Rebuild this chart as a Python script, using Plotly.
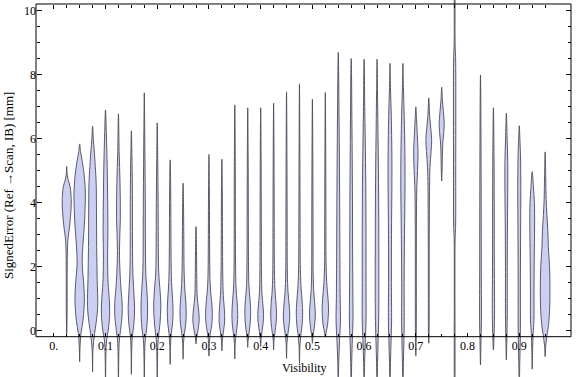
import plotly.graph_objects as go

# ---------------- data ----------------
visibility = [0.025, 0.05, 0.075, 0.1, 0.125, 0.15, 0.175, 0.2, 0.225, 0.25,
              0.275, 0.3, 0.325, 0.35, 0.375, 0.4, 0.425, 0.45, 0.475, 0.5,
              0.525, 0.55, 0.575, 0.6, 0.625, 0.65, 0.675, 0.7, 0.725, 0.75,
              0.775, 0.825, 0.85, 0.875, 0.9, 0.925, 0.95]

error_min = [-0.11, -0.98, -1.29, -1.8, -1.8, -1.37, -1.8, -1.8, -1.06, -0.9,
             -0.42, -0.8, -0.64, -0.89, -0.53, -0.5, -0.61, -0.87, -1.03, -0.4,
             -0.19, -1.8, -1.8, -1.8, -1.8, -1.8, -1.8, -0.8, -0.4, 4.68,
             -2.0, -1.08, -0.61, -0.92, -1.8, -1.21, -0.82]

error_max = [5.13, 5.84, 6.40, 6.90, 6.78, 6.25, 7.44, 6.50, 5.34, 4.61,
             3.25, 5.51, 5.36, 7.06, 6.97, 6.97, 7.11, 7.47, 7.72, 7.24,
             7.45, 8.70, 8.51, 8.49, 8.49, 8.36, 8.36, 7.00, 7.28, 7.61,
             11.0, 8.00, 6.97, 6.80, 6.41, 4.97, 5.59]

# estimated density profile of each distribution: (error level, relative density)
density_knots = [
    [(0.5, 0.4), (2.0, 0.5), (2.8, 1.1), (3.3, 3.0), (3.8, 4.3), (4.1, 4.5), (4.5, 3.4), (4.75, 1.2), (4.95, 0.3)],
    [(-0.5, 0.4), (-0.1, 1.3), (0.3, 3.3), (0.7, 4.4), (1.05, 4.7), (1.5, 4.0), (2.1, 2.5), (2.7, 3.3), (3.3, 4.7), (3.8, 5.4), (4.3, 5.7), (4.8, 4.7), (5.3, 2.6), (5.6, 0.9)],
    [(-0.6, 0.4), (-0.1, 2.0), (0.25, 3.6), (0.75, 5.1), (1.6, 4.6), (2.6, 4.1), (3.7, 3.9), (4.6, 3.6), (5.13, 2.7), (5.65, 1.6), (6.0, 0.7)],
    [(-0.8, 0.35), (-0.3, 1.1), (0.0, 2.7), (0.5, 4.1), (0.9, 3.9), (1.5, 2.6), (2.2, 2.1), (3.2, 2.4), (4.2, 2.1), (5.1, 1.7), (6.2, 0.8)],
    [(-0.8, 0.35), (-0.3, 0.9), (0.0, 2.1), (0.5, 3.7), (0.9, 3.6), (1.5, 2.1), (2.5, 1.0), (3.5, 1.9), (4.6, 1.6), (5.6, 0.7)],
    [(-0.6, 0.35), (-0.2, 0.9), (0.2, 2.5), (0.7, 3.2), (1.2, 2.5), (1.8, 1.5), (2.8, 1.1), (4.0, 1.1), (5.0, 0.8), (5.7, 0.4)],
    [(-0.8, 0.35), (-0.3, 0.9), (0.1, 2.5), (0.7, 3.3), (1.3, 2.5), (1.8, 1.5), (2.8, 1.1), (4.0, 1.0), (5.2, 0.7), (6.3, 0.4)],
    [(-0.8, 0.35), (-0.3, 0.9), (0.2, 2.7), (0.8, 3.6), (1.3, 2.7), (1.8, 1.5), (2.6, 1.1), (4.0, 0.9), (5.3, 0.5)],
    [(-0.5, 0.35), (-0.1, 1.1), (0.2, 2.3), (0.6, 2.9), (1.0, 2.4), (1.5, 1.4), (2.3, 0.9), (3.5, 0.7), (4.5, 0.5)],
    [(-0.4, 0.4), (-0.1, 1.3), (0.2, 2.6), (0.55, 3.1), (0.9, 2.7), (1.3, 1.7), (1.9, 1.0), (3.0, 0.7), (4.0, 0.4)],
    [(-0.2, 0.7), (0.0, 1.9), (0.35, 3.2), (0.7, 2.4), (1.05, 1.2), (1.6, 0.8), (2.5, 0.5)],
    [(-0.4, 0.4), (-0.1, 1.3), (0.15, 2.7), (0.5, 3.4), (0.9, 2.7), (1.3, 1.5), (1.8, 0.9), (3.0, 0.6), (4.5, 0.4)],
    [(-0.3, 0.5), (-0.05, 1.5), (0.3, 2.8), (0.7, 2.4), (1.1, 1.4), (1.7, 0.9), (3.0, 0.6), (4.5, 0.4)],
    [(-0.4, 0.4), (-0.1, 1.4), (0.2, 2.5), (0.5, 2.9), (0.9, 2.3), (1.3, 1.3), (1.9, 0.8), (3.0, 0.6), (5.0, 0.5)],
    [(-0.3, 0.4), (-0.05, 1.4), (0.3, 2.6), (0.65, 2.9), (1.0, 2.2), (1.4, 1.2), (2.0, 0.8), (3.5, 0.6), (5.5, 0.4)],
    [(-0.25, 0.5), (0.0, 1.5), (0.25, 2.5), (0.5, 2.9), (0.85, 2.1), (1.2, 1.2), (1.8, 0.8), (3.5, 0.6), (5.5, 0.4)],
    [(-0.3, 0.4), (-0.05, 1.4), (0.25, 2.5), (0.55, 2.9), (0.9, 2.3), (1.3, 1.3), (1.9, 0.8), (3.5, 0.6), (5.5, 0.4)],
    [(-0.4, 0.4), (-0.1, 1.4), (0.2, 2.7), (0.45, 3.2), (0.8, 2.6), (1.2, 1.5), (1.8, 0.8), (3.5, 0.6), (5.5, 0.4)],
    [(-0.5, 0.4), (-0.1, 1.5), (0.2, 2.7), (0.55, 3.2), (0.9, 2.7), (1.3, 1.7), (1.9, 0.9), (3.5, 0.6), (5.5, 0.4)],
    [(-0.2, 0.5), (0.05, 1.7), (0.3, 2.6), (0.55, 2.9), (0.85, 2.3), (1.2, 1.4), (1.7, 0.8), (3.5, 0.6), (5.5, 0.4)],
    [(-0.05, 0.9), (0.2, 2.3), (0.65, 3.2), (1.0, 2.7), (1.4, 1.6), (2.0, 0.8), (3.5, 0.6), (5.5, 0.4)],
    [(-1.0, 0.5), (-0.3, 1.3), (0.3, 2.2), (1.0, 1.9), (2.5, 1.6), (4.0, 1.4), (5.5, 1.1), (7.0, 0.7), (8.0, 0.4)],
    [(-1.0, 0.5), (-0.3, 1.1), (0.3, 1.8), (1.0, 1.7), (2.5, 1.4), (4.0, 1.3), (5.5, 1.0), (7.0, 0.6), (8.0, 0.35)],
    [(-1.0, 0.5), (-0.3, 1.2), (0.3, 1.9), (1.5, 1.9), (3.0, 1.9), (4.5, 1.7), (6.0, 1.1), (7.3, 0.5), (8.0, 0.35)],
    [(-1.0, 0.5), (-0.3, 1.1), (0.5, 1.7), (2.0, 1.8), (3.5, 1.7), (5.0, 1.4), (6.3, 0.9), (7.5, 0.45)],
    [(-1.0, 0.5), (-0.3, 1.1), (0.3, 1.6), (1.5, 1.4), (3.0, 1.5), (4.5, 1.9), (5.5, 1.9), (6.7, 1.3), (7.6, 0.5)],
    [(-1.0, 0.5), (-0.3, 1.0), (0.3, 1.3), (1.5, 1.2), (3.0, 1.6), (4.5, 2.1), (5.5, 2.0), (6.7, 1.3), (7.6, 0.5)],
    [(-0.3, 0.35), (0.5, 0.5), (2.0, 0.5), (3.5, 0.6), (4.4, 0.9), (5.0, 1.7), (5.6, 2.2), (6.1, 1.5), (6.6, 0.7)],
    [(0.0, 0.35), (1.0, 0.4), (3.0, 0.5), (4.5, 0.8), (5.1, 1.2), (5.6, 2.3), (5.95, 2.9), (6.3, 2.1), (6.7, 0.9)],
    [(5.0, 0.4), (5.5, 0.7), (5.9, 1.2), (6.2, 2.1), (6.5, 2.5), (6.85, 1.7), (7.2, 0.7)],
    [(-1.5, 0.35), (2.8, 0.45), (3.3, 1.0), (5.0, 1.1), (8.5, 1.0), (9.0, 0.45), (10.5, 0.35)],
    [(-0.5, 0.4), (0.3, 0.9), (2.0, 0.8), (4.0, 0.7), (6.0, 0.5), (7.3, 0.3)],
    [(-0.3, 0.5), (0.5, 1.1), (2.0, 0.9), (4.0, 0.8), (5.5, 0.6)],
    [(-0.4, 0.4), (0.5, 0.9), (2.0, 0.9), (3.3, 1.1), (4.3, 1.4), (5.3, 1.4), (6.1, 0.7)],
    [(-1.0, 0.5), (0.0, 1.1), (1.5, 1.1), (3.0, 1.3), (4.5, 1.5), (5.5, 1.2), (6.0, 0.6)],
    [(-0.6, 0.4), (-0.1, 0.9), (0.3, 1.7), (1.2, 1.8), (2.2, 2.0), (3.3, 2.4), (4.0, 2.2), (4.5, 1.2)],
    [(-0.5, 0.5), (-0.2, 1.6), (0.1, 3.1), (0.6, 4.4), (1.4, 4.8), (2.0, 4.4), (2.6, 3.2), (3.1, 2.7), (3.6, 1.8), (4.1, 1.0), (4.8, 0.6)],
]

x_major_ticks = [0.0, 0.1, 0.2, 0.3, 0.4, 0.5, 0.6, 0.7, 0.8, 0.9]
x_major_labels = ["0.", "0.1", "0.2", "0.3", "0.4", "0.5", "0.6", "0.7", "0.8", "0.9"]
x_minor_ticks = [round(0.025 * k, 3) for k in range(39) if k % 4 != 0]
y_major_ticks = [0, 2, 4, 6, 8, 10]
y_minor_ticks = [0.5 * k for k in range(21) if k % 4 != 0]

# ---------------- styling ----------------
WIDTH_SCALE = 1.0 / 517.2   # density unit -> x units
FILL = "rgb(203,207,243)"
EDGE = "rgb(75,75,88)"
FONT = "Liberation Serif"

fig = go.Figure()

for pos, lo, hi, knots in zip(visibility, error_min, error_max, density_knots):
    right_x = [pos + d * WIDTH_SCALE for (_, d) in knots]
    left_x = [pos - d * WIDTH_SCALE for (_, d) in knots]
    lv = [v for (v, _) in knots]
    xs = [pos] + right_x + [pos] + left_x[::-1] + [pos]
    ys = [lo] + lv + [hi] + lv[::-1] + [lo]
    fig.add_trace(go.Scatter(
        x=xs, y=ys, mode="lines", fill="toself", fillcolor=FILL,
        line=dict(color=EDGE, width=0.9, shape="spline", smoothing=1.0),
        hoverinfo="skip", showlegend=False))

# empty trace so mirror axes exist
fig.add_trace(go.Scatter(x=[], y=[], xaxis="x2", yaxis="y2", showlegend=False, hoverinfo="skip"))

x_range = [-0.0344, 1.0]
y_range = [-1.455, 10.344]
frame_bottom = 0.1069
frame_top = 0.9894

common_x = dict(range=x_range, showgrid=False, zeroline=False, showline=False,
                ticks="inside", ticklen=4, tickwidth=1, tickcolor="black",
                tickvals=x_major_ticks, ticktext=x_major_labels,
                minor=dict(tickvals=x_minor_ticks, ticks="inside", ticklen=3,
                           tickwidth=1, tickcolor="black", showgrid=False))
common_y = dict(range=y_range, showgrid=False, zeroline=False, showline=False,
                ticks="inside", ticklen=5, tickwidth=1, tickcolor="black",
                tickvals=y_major_ticks, ticktext=[str(v) for v in y_major_ticks],
                minor=dict(tickvals=y_minor_ticks, ticks="inside", ticklen=3,
                           tickwidth=1, tickcolor="black", showgrid=False))

fig.update_layout(
    width=576, height=377,
    margin=dict(l=36, r=5, t=0, b=0),
    paper_bgcolor="white", plot_bgcolor="white",
    showlegend=False,
    font=dict(family=FONT, size=12, color="black"),
    xaxis=dict(domain=[0, 1], anchor="free", position=frame_bottom, side="bottom",
               tickfont=dict(family=FONT, size=12, color="black"), **common_x),
    yaxis=dict(domain=[0, 1], anchor="free", position=0, side="left",
               tickfont=dict(family=FONT, size=12, color="black"), **common_y),
    xaxis2=dict(overlaying="x", anchor="free", position=frame_top, side="top",
                showticklabels=False, **common_x),
    yaxis2=dict(overlaying="y", anchor="free", position=1, side="right",
                showticklabels=False, **common_y),
    shapes=[dict(type="rect", xref="paper", yref="paper", x0=0, x1=1,
                 y0=frame_bottom, y1=frame_top,
                 line=dict(color="black", width=1), layer="above")],
    annotations=[
        dict(text="Visibility", xref="paper", yref="paper", x=0.501, y=0.024,
             xanchor="center", yanchor="middle", showarrow=False,
             font=dict(family=FONT, size=12, color="black")),
        dict(text="SignedError (Ref →Scan, IB) [mm]", xref="paper", yref="paper",
             x=-0.0523, y=0.5066, textangle=-90, xanchor="center", yanchor="middle",
             showarrow=False, font=dict(family=FONT, size=13, color="black")),
    ],
)

fig.write_html("out.html",
               config={"displayModeBar": False},
               post_script="document.body.style.margin='0';document.body.style.overflow='hidden';")
